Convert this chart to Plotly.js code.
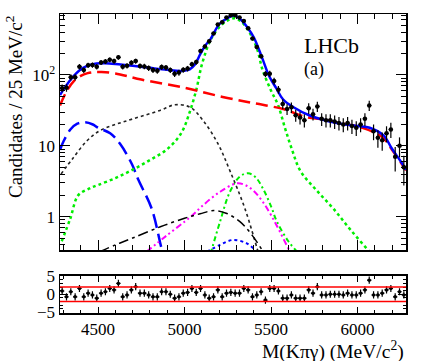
<!DOCTYPE html>
<html>
<head>
<meta charset="utf-8">
<script src="https://cdn.plot.ly/plotly-3.0.1.min.js"></script>
<style>
  body { margin: 0; background: #fff; }
  #graph { width: 427px; height: 361px; }
</style>
</head>
<body>
<div id="graph"></div>
<script>
// bin centres (25 MeV bins)
const binCenters = [
  4292.5,4317.5,4342.5,4367.5,4392.5,4417.5,4442.5,4467.5,4492.5,4517.5,
  4542.5,4567.5,4592.5,4617.5,4642.5,4667.5,4692.5,4717.5,4742.5,4767.5,
  4792.5,4817.5,4842.5,4867.5,4892.5,4917.5,4942.5,4967.5,4992.5,5017.5,
  5042.5,5067.5,5092.5,5117.5,5142.5,5167.5,5192.5,5217.5,5242.5,5267.5,
  5292.5,5317.5,5342.5,5367.5,5392.5,5417.5,5442.5,5467.5,5492.5,5517.5,
  5542.5,5567.5,5592.5,5617.5,5642.5,5667.5,5692.5,5717.5,5742.5,5767.5,
  5792.5,5817.5,5842.5,5867.5,5892.5,5917.5,5942.5,5967.5,5992.5,6017.5,
  6042.5,6067.5,6092.5,6117.5,6142.5,6167.5,6192.5,6217.5,6242.5,6267.5
];

// candidates per bin
const counts = [
  65,66,93,93,131,117,137,138,131,150,
  155,164,157,177,131,135,149,157,134,132,
  125,117,115,129,127,117,104,108,118,123,
  142,152,218,252,300,386,516,553,648,694,
  698,648,578,455,327,247,184,103,104,82,
  62,39,33,35,27,25,23,34,28,36,
  24,23,23,22,21,20,21,19,18,20,
  24,37,16,13,12,15,17,7,10,5
];

// pulls
const pulls = [
  0.9,-0.7,0.7,-0.7,1.6,-0.7,0.3,-0.2,-1.1,0.3,
  0.7,1.6,1.2,3.0,-0.7,-0.2,1.2,2.1,0.3,0.3,
  -0.2,-0.7,-0.7,0.7,0.7,0,-1.1,-0.7,0.3,0.5,
  1.6,0.5,1.6,-0.2,-1.1,-0.7,1.2,-0.7,0.3,0.5,
  0.3,0.3,1.6,1.2,-0.7,-0.2,0.7,-1.6,1.6,1.6,
  0.9,-1.1,-1.1,-0.2,-1.1,-1.1,-1.1,1.2,0.3,2.1,
  -0.2,-0.2,0,0,0,-0.2,0.3,-0.2,-0.2,0.3,
  1.2,3.9,-0.2,-0.2,0.3,1.2,1.6,-0.7,0.7,-0.2
];

// fit components
const totalMass = [4280,4300,4340,4390,4440,4490,4540,4600,4700,4800,4900,4980,5030,5060,5090,5120,5150,5200,5250,5285,5320,5360,5400,5450,5490,5530,5570,5630,5720,5880,6000,6070,6150,6200,6250,6280];
const totalFit  = [52,62,85,115,135,145,146,143,135,126,118,114,120,140,195,260,320,520,640,690,620,480,340,170,95,65,45,35,27,21,19,18,14,9,6,4.6];

const combMass = [4280,4320,4360,4400,4440,4480,4520,4600,4750,5000,5220,5400,5570,5700,5800,5900,6000,6100,6150,6200,6250,6280];
const combFit  = [37,60,82,97,106,110,110,105,86,66,49,40,33,25.5,23.5,20.8,18.8,15.3,12.8,8.7,5.8,4.5];

const lowMass = [4280,4300,4340,4380,4425,4470,4500,4570,4627,4696,4731,4810,4858,4890];
const lowFit  = [8.8,11.5,17,20.5,21.5,20,18,15,10.7,5.5,3.4,1.3,0.44,0.2];

const prMass = [4286,4355,4436,4511,4600,4702,4858,4945,5032,5107,5193,5263,5349,5425,5450];
const prFit  = [4,6.7,11.8,16.4,20,24,31.6,38,35,22.8,10.7,4.4,1.3,0.32,0.2];

const sigMass = [4290,4340,4385,4450,4500,4600,4700,4800,4900,4980,5030,5070,5100,5150,5200,5250,5290,5330,5380,5420,5450,5500,5540,5580,5620,5670,5760,5860,5960,6070,6100];
const sigFit  = [0.45,0.95,2.0,2.5,2.8,3.5,4.6,6.3,9,15,30,65,140,310,470,590,630,560,380,230,120,60,38,18,9,4.4,2.4,1.3,0.65,0.32,0.27];

const sig2Mass = [5150,5205,5263,5320,5367,5410,5453,5500,5534,5600,5650,5670];
const sig2Fit  = [0.3,0.85,2.27,3.7,4.1,3.6,2.5,1.4,0.85,0.45,0.32,0.28];

const magMass = [4780,4900,5000,5050,5100,5200,5300,5350,5400,5450,5500,5550,5610,5630];
const magFit  = [0.32,0.55,0.85,1.07,1.4,2.2,2.95,2.8,2.3,1.65,1.05,0.62,0.32,0.27];

const ddMass = [4510,4600,4700,4860,5000,5090,5170,5240,5320,5390,5455,5470];
const ddFit  = [0.32,0.4,0.5,0.72,0.95,1.1,1.22,1.12,0.85,0.55,0.32,0.28];

const bdMass = [5130,5205,5280,5360,5420,5440];
const bdFit  = [0.32,0.4,0.47,0.42,0.32,0.29];

const serif = 'Liberation Serif, Times New Roman, serif';

function curve(x, y, color, width, dash) {
    return { x: x, y: y, type: 'scatter', mode: 'lines', xaxis: 'x', yaxis: 'y',
             line: { color: color, width: width, dash: dash, shape: 'spline' },
             hoverinfo: 'skip' };
}

const traces = [
    curve(prMass, prFit, '#222222', 1.6, 'dot'),
    curve(lowMass, lowFit, '#0000ff', 2.5, '14px,6px'),
    curve(sigMass, sigFit, '#00ee00', 2.5, 'dot'),
    curve(sig2Mass, sig2Fit, '#00ee00', 2, '5px,3px,2px,3px'),
    curve(magMass, magFit, '#ff00ff', 2, '6px,3px,2px,3px,2px,3px'),
    curve(ddMass, ddFit, '#000000', 1.5, '10px,4px,3px,4px'),
    curve(bdMass, bdFit, '#0000ff', 2, 'dot'),
    curve(combMass, combFit, '#ff0000', 2.5, '12px,6px'),
    curve(totalMass, totalFit, '#0000ff', 2.5, 'solid'),
    {
        x: binCenters, y: counts, type: 'scatter', mode: 'markers', xaxis: 'x', yaxis: 'y',
        marker: { color: 'black', size: 4.5 },
        error_y: { type: 'data', array: counts.map(Math.sqrt), color: 'black', thickness: 1.2, width: 0 },
        error_x: { type: 'constant', value: 12.5, color: 'black', thickness: 1.2, width: 0 }
    },
    {
        x: binCenters, y: pulls, type: 'scatter', mode: 'markers', xaxis: 'x2', yaxis: 'y2',
        marker: { color: 'black', size: 3.5 },
        error_y: { type: 'constant', value: 1, color: 'black', thickness: 1.2, width: 0 },
        error_x: { type: 'constant', value: 12.5, color: 'black', thickness: 1.2, width: 0 }
    }
];

const minorLog = [0.4,0.5,0.6,0.7,0.8,0.9,2,3,4,5,6,7,8,9,20,30,40,50,60,70,80,90,200,300,400,500,600,700];

const axisCommon = {
    showline: true, linecolor: 'black', linewidth: 1.5, mirror: 'allticks',
    ticks: 'inside', tickcolor: 'black', showgrid: false, zeroline: false,
    tickfont: { family: serif, size: 17, color: 'black' }
};

const layout = {
    width: 427, height: 361,
    margin: { l: 60, r: 21, t: 14, b: 48 },
    paper_bgcolor: 'white', plot_bgcolor: 'white',
    showlegend: false,
    xaxis: Object.assign({}, axisCommon, {
        anchor: 'y', range: [4280, 6280], tick0: 4500, dtick: 500, ticklen: 10,
        showticklabels: false,
        minor: { dtick: 100, tick0: 4500, ticks: 'inside', ticklen: 5, tickcolor: 'black', showgrid: false }
    }),
    yaxis: Object.assign({}, axisCommon, {
        domain: [0.2107, 1], type: 'log', range: [-0.47, 2.86],
        tickmode: 'array', tickvals: [1, 10, 100], ticktext: ['1', '10', '10<sup>2</sup>'], ticklen: 10,
        minor: { tickmode: 'array', tickvals: minorLog, ticks: 'inside', ticklen: 5, tickcolor: 'black', showgrid: false }
    }),
    xaxis2: Object.assign({}, axisCommon, {
        anchor: 'y2', matches: 'x', range: [4280, 6280], tick0: 4500, dtick: 500, ticklen: 6,
        minor: { dtick: 100, tick0: 4500, ticks: 'inside', ticklen: 3, tickcolor: 'black', showgrid: false }
    }),
    yaxis2: Object.assign({}, axisCommon, {
        domain: [0, 0.1254], range: [-5.2, 5.2], tickmode: 'array', tickvals: [-5, 0, 5], ticklen: 8,
        minor: { tickmode: 'array', tickvals: [-4,-3,-2,-1,1,2,3,4], ticks: 'inside', ticklen: 3, tickcolor: 'black', showgrid: false }
    }),
    shapes: [
        { type: 'line', xref: 'paper', x0: 0, x1: 1, yref: 'y2', y0: 2, y1: 2, line: { color: '#ff0000', width: 1.5 } },
        { type: 'line', xref: 'paper', x0: 0, x1: 1, yref: 'y2', y0: -2, y1: -2, line: { color: '#ff0000', width: 1.5 } }
    ],
    annotations: [
        { text: 'LHCb', xref: 'paper', yref: 'paper', x: 0.70, y: 0.896, xanchor: 'left', yanchor: 'middle',
          showarrow: false, font: { family: serif, size: 22, color: 'black' } },
        { text: '(a)', xref: 'paper', yref: 'paper', x: 0.70, y: 0.815, xanchor: 'left', yanchor: 'middle',
          showarrow: false, font: { family: serif, size: 18, color: 'black' } },
        { text: 'Candidates / 25 MeV/c<sup>2</sup>', xref: 'paper', yref: 'paper', x: -0.133, y: 1.0,
          xanchor: 'center', yanchor: 'top', textangle: -90, showarrow: false,
          font: { family: serif, size: 19, color: 'black' } },
        { text: 'M(K\u03c0\u03b3) (MeV/c<sup>2</sup>)', xref: 'paper', yref: 'paper', x: 1.0, y: -0.125,
          xanchor: 'right', yanchor: 'middle', showarrow: false,
          font: { family: serif, size: 19.5, color: 'black' } }
    ]
};

Plotly.newPlot('graph', traces, layout, { staticPlot: true });
</script>
</body>
</html>
